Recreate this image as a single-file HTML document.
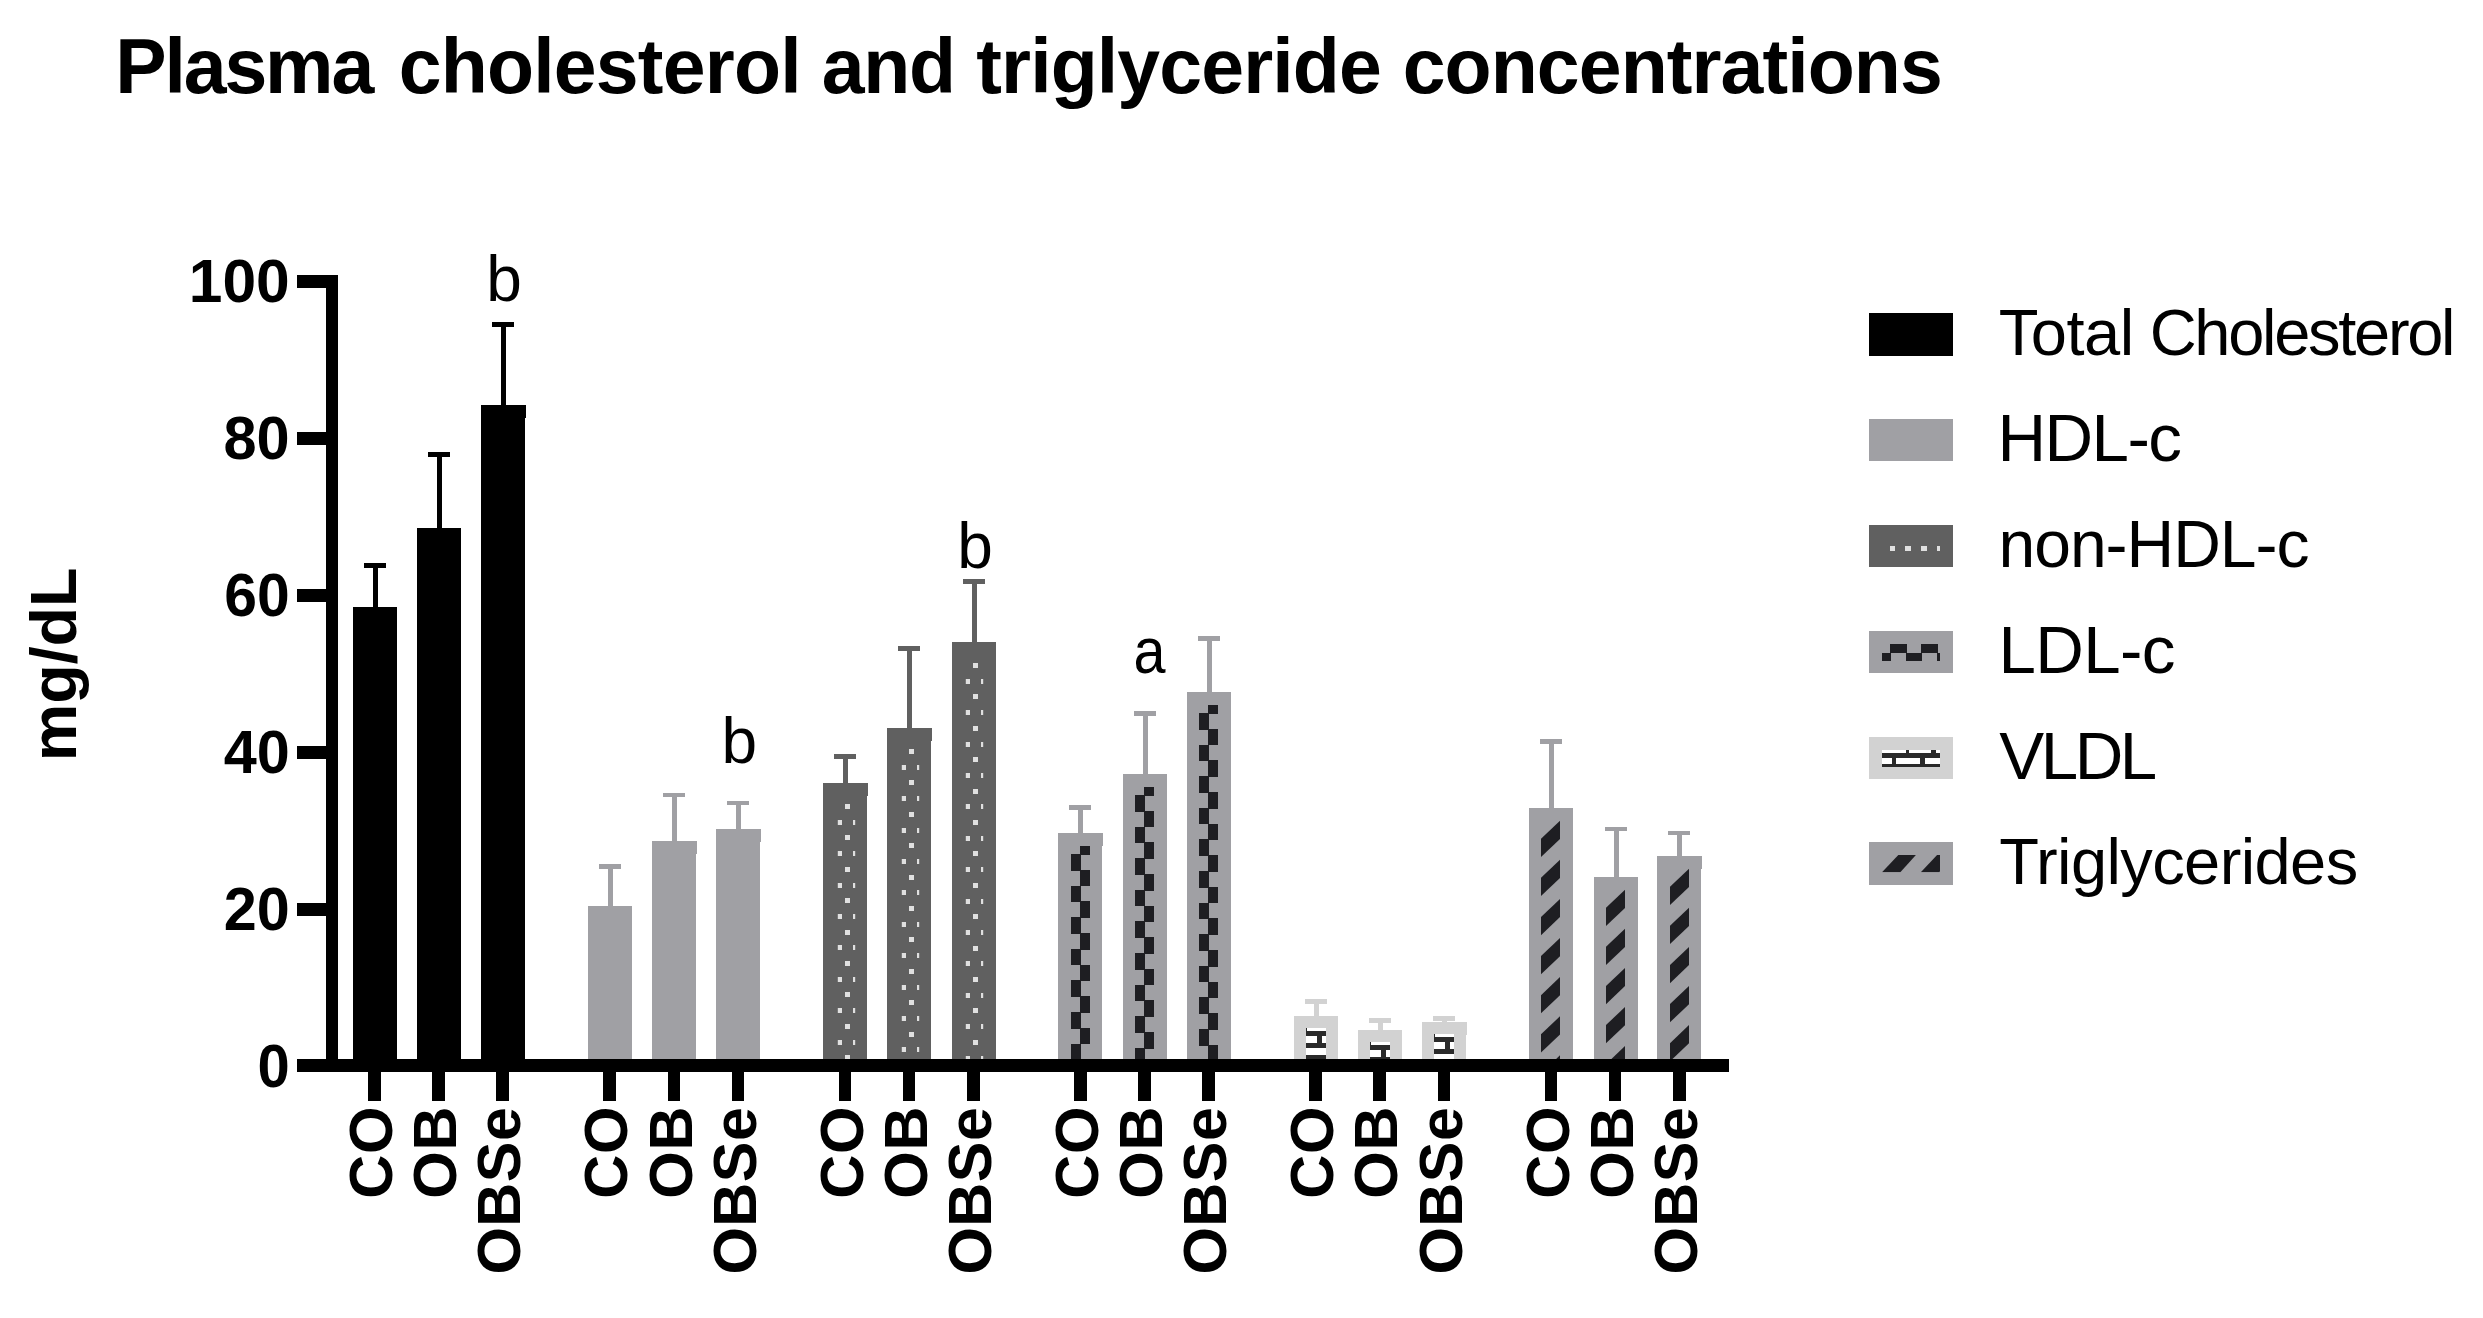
<!DOCTYPE html>
<html lang="en"><head><meta charset="utf-8"><title>Plasma cholesterol and triglyceride concentrations</title>
<style>html,body{margin:0;padding:0;background:#fff;}body{width:2483px;height:1318px;overflow:hidden;}svg{display:block;}text{font-family:"Liberation Sans",Arial,Helvetica,sans-serif;fill:#000;}.b{font-weight:bold;}</style></head><body>
<svg width="2483" height="1318" viewBox="0 0 2483 1318">
<rect width="2483" height="1318" fill="#fff"/>
<g shape-rendering="crispEdges">
<rect x="364" y="563" width="22" height="5" fill="#000"/>
<rect x="372.5" y="563" width="5" height="45" fill="#000"/>
<rect x="353" y="607" width="44" height="453" fill="#000"/>
<rect x="428" y="452" width="22" height="5" fill="#000"/>
<rect x="436.5" y="452" width="5" height="77" fill="#000"/>
<rect x="417" y="528" width="44" height="532" fill="#000"/>
<rect x="492" y="322" width="22" height="5" fill="#000"/>
<rect x="500.5" y="322" width="5" height="83.5" fill="#000"/>
<rect x="481" y="404.5" width="44" height="655.5" fill="#000"/>
<rect x="525" y="404.5" width="1" height="13" fill="#000"/>
<rect x="599" y="864" width="22" height="5" fill="#A0A0A4"/>
<rect x="607.5" y="864" width="5" height="43" fill="#A0A0A4"/>
<rect x="588" y="906" width="44" height="154" fill="#A0A0A4"/>
<rect x="663" y="793" width="22" height="4" fill="#A0A0A4"/>
<rect x="671.5" y="793" width="5" height="49" fill="#A0A0A4"/>
<rect x="652" y="841" width="44" height="219" fill="#A0A0A4"/>
<rect x="696" y="841" width="1" height="13" fill="#A0A0A4"/>
<rect x="727" y="801" width="22" height="4" fill="#A0A0A4"/>
<rect x="735.5" y="801" width="5" height="29" fill="#A0A0A4"/>
<rect x="716" y="829" width="44" height="231" fill="#A0A0A4"/>
<rect x="760" y="829" width="1" height="13" fill="#A0A0A4"/>
<rect x="834" y="754" width="22" height="4.5" fill="#606060"/>
<rect x="842.5" y="754" width="5" height="30" fill="#606060"/>
<rect x="823" y="783" width="44" height="277" fill="#606060"/>
<rect x="867" y="783" width="1" height="13" fill="#606060"/>
<clipPath id="c1"><rect x="837.8" y="796" width="17.4" height="263"/></clipPath>
<g clip-path="url(#c1)">
<rect x="844.9" y="804" width="5.1" height="5" fill="#E0E0E0"/>
<rect x="836.9" y="819.75" width="5.1" height="5" fill="#E0E0E0"/>
<rect x="852.9" y="819.75" width="5.1" height="5" fill="#E0E0E0"/>
<rect x="844.9" y="835.4" width="5.1" height="5" fill="#E0E0E0"/>
<rect x="836.9" y="851.15" width="5.1" height="5" fill="#E0E0E0"/>
<rect x="852.9" y="851.15" width="5.1" height="5" fill="#E0E0E0"/>
<rect x="844.9" y="866.8" width="5.1" height="5" fill="#E0E0E0"/>
<rect x="836.9" y="882.55" width="5.1" height="5" fill="#E0E0E0"/>
<rect x="852.9" y="882.55" width="5.1" height="5" fill="#E0E0E0"/>
<rect x="844.9" y="898.2" width="5.1" height="5" fill="#E0E0E0"/>
<rect x="836.9" y="913.95" width="5.1" height="5" fill="#E0E0E0"/>
<rect x="852.9" y="913.95" width="5.1" height="5" fill="#E0E0E0"/>
<rect x="844.9" y="929.6" width="5.1" height="5" fill="#E0E0E0"/>
<rect x="836.9" y="945.35" width="5.1" height="5" fill="#E0E0E0"/>
<rect x="852.9" y="945.35" width="5.1" height="5" fill="#E0E0E0"/>
<rect x="844.9" y="961" width="5.1" height="5" fill="#E0E0E0"/>
<rect x="836.9" y="976.75" width="5.1" height="5" fill="#E0E0E0"/>
<rect x="852.9" y="976.75" width="5.1" height="5" fill="#E0E0E0"/>
<rect x="844.9" y="992.4" width="5.1" height="5" fill="#E0E0E0"/>
<rect x="836.9" y="1008.15" width="5.1" height="5" fill="#E0E0E0"/>
<rect x="852.9" y="1008.15" width="5.1" height="5" fill="#E0E0E0"/>
<rect x="844.9" y="1023.8" width="5.1" height="5" fill="#E0E0E0"/>
<rect x="836.9" y="1039.55" width="5.1" height="5" fill="#E0E0E0"/>
<rect x="852.9" y="1039.55" width="5.1" height="5" fill="#E0E0E0"/>
<rect x="844.9" y="1055.2" width="5.1" height="5" fill="#E0E0E0"/>
<rect x="836.9" y="1070.95" width="5.1" height="5" fill="#E0E0E0"/>
<rect x="852.9" y="1070.95" width="5.1" height="5" fill="#E0E0E0"/>
</g>
<rect x="898" y="646" width="22" height="5" fill="#606060"/>
<rect x="906.5" y="646" width="5" height="83" fill="#606060"/>
<rect x="887" y="728" width="44" height="332" fill="#606060"/>
<rect x="931" y="728" width="1" height="13" fill="#606060"/>
<clipPath id="c2"><rect x="901.8" y="741" width="17.4" height="318"/></clipPath>
<g clip-path="url(#c2)">
<rect x="908.9" y="749" width="5.1" height="5" fill="#E0E0E0"/>
<rect x="900.9" y="764.75" width="5.1" height="5" fill="#E0E0E0"/>
<rect x="916.9" y="764.75" width="5.1" height="5" fill="#E0E0E0"/>
<rect x="908.9" y="780.4" width="5.1" height="5" fill="#E0E0E0"/>
<rect x="900.9" y="796.15" width="5.1" height="5" fill="#E0E0E0"/>
<rect x="916.9" y="796.15" width="5.1" height="5" fill="#E0E0E0"/>
<rect x="908.9" y="811.8" width="5.1" height="5" fill="#E0E0E0"/>
<rect x="900.9" y="827.55" width="5.1" height="5" fill="#E0E0E0"/>
<rect x="916.9" y="827.55" width="5.1" height="5" fill="#E0E0E0"/>
<rect x="908.9" y="843.2" width="5.1" height="5" fill="#E0E0E0"/>
<rect x="900.9" y="858.95" width="5.1" height="5" fill="#E0E0E0"/>
<rect x="916.9" y="858.95" width="5.1" height="5" fill="#E0E0E0"/>
<rect x="908.9" y="874.6" width="5.1" height="5" fill="#E0E0E0"/>
<rect x="900.9" y="890.35" width="5.1" height="5" fill="#E0E0E0"/>
<rect x="916.9" y="890.35" width="5.1" height="5" fill="#E0E0E0"/>
<rect x="908.9" y="906" width="5.1" height="5" fill="#E0E0E0"/>
<rect x="900.9" y="921.75" width="5.1" height="5" fill="#E0E0E0"/>
<rect x="916.9" y="921.75" width="5.1" height="5" fill="#E0E0E0"/>
<rect x="908.9" y="937.4" width="5.1" height="5" fill="#E0E0E0"/>
<rect x="900.9" y="953.15" width="5.1" height="5" fill="#E0E0E0"/>
<rect x="916.9" y="953.15" width="5.1" height="5" fill="#E0E0E0"/>
<rect x="908.9" y="968.8" width="5.1" height="5" fill="#E0E0E0"/>
<rect x="900.9" y="984.55" width="5.1" height="5" fill="#E0E0E0"/>
<rect x="916.9" y="984.55" width="5.1" height="5" fill="#E0E0E0"/>
<rect x="908.9" y="1000.2" width="5.1" height="5" fill="#E0E0E0"/>
<rect x="900.9" y="1015.95" width="5.1" height="5" fill="#E0E0E0"/>
<rect x="916.9" y="1015.95" width="5.1" height="5" fill="#E0E0E0"/>
<rect x="908.9" y="1031.6" width="5.1" height="5" fill="#E0E0E0"/>
<rect x="900.9" y="1047.35" width="5.1" height="5" fill="#E0E0E0"/>
<rect x="916.9" y="1047.35" width="5.1" height="5" fill="#E0E0E0"/>
<rect x="908.9" y="1063" width="5.1" height="5" fill="#E0E0E0"/>
<rect x="900.9" y="1078.75" width="5.1" height="5" fill="#E0E0E0"/>
<rect x="916.9" y="1078.75" width="5.1" height="5" fill="#E0E0E0"/>
</g>
<rect x="963" y="579" width="22" height="5" fill="#606060"/>
<rect x="971.5" y="579" width="5" height="64" fill="#606060"/>
<rect x="952" y="642" width="44" height="418" fill="#606060"/>
<clipPath id="c3"><rect x="965.8" y="655" width="17.4" height="404"/></clipPath>
<g clip-path="url(#c3)">
<rect x="972.9" y="663" width="5.1" height="5" fill="#E0E0E0"/>
<rect x="964.9" y="678.75" width="5.1" height="5" fill="#E0E0E0"/>
<rect x="980.9" y="678.75" width="5.1" height="5" fill="#E0E0E0"/>
<rect x="972.9" y="694.4" width="5.1" height="5" fill="#E0E0E0"/>
<rect x="964.9" y="710.15" width="5.1" height="5" fill="#E0E0E0"/>
<rect x="980.9" y="710.15" width="5.1" height="5" fill="#E0E0E0"/>
<rect x="972.9" y="725.8" width="5.1" height="5" fill="#E0E0E0"/>
<rect x="964.9" y="741.55" width="5.1" height="5" fill="#E0E0E0"/>
<rect x="980.9" y="741.55" width="5.1" height="5" fill="#E0E0E0"/>
<rect x="972.9" y="757.2" width="5.1" height="5" fill="#E0E0E0"/>
<rect x="964.9" y="772.95" width="5.1" height="5" fill="#E0E0E0"/>
<rect x="980.9" y="772.95" width="5.1" height="5" fill="#E0E0E0"/>
<rect x="972.9" y="788.6" width="5.1" height="5" fill="#E0E0E0"/>
<rect x="964.9" y="804.35" width="5.1" height="5" fill="#E0E0E0"/>
<rect x="980.9" y="804.35" width="5.1" height="5" fill="#E0E0E0"/>
<rect x="972.9" y="820" width="5.1" height="5" fill="#E0E0E0"/>
<rect x="964.9" y="835.75" width="5.1" height="5" fill="#E0E0E0"/>
<rect x="980.9" y="835.75" width="5.1" height="5" fill="#E0E0E0"/>
<rect x="972.9" y="851.4" width="5.1" height="5" fill="#E0E0E0"/>
<rect x="964.9" y="867.15" width="5.1" height="5" fill="#E0E0E0"/>
<rect x="980.9" y="867.15" width="5.1" height="5" fill="#E0E0E0"/>
<rect x="972.9" y="882.8" width="5.1" height="5" fill="#E0E0E0"/>
<rect x="964.9" y="898.55" width="5.1" height="5" fill="#E0E0E0"/>
<rect x="980.9" y="898.55" width="5.1" height="5" fill="#E0E0E0"/>
<rect x="972.9" y="914.2" width="5.1" height="5" fill="#E0E0E0"/>
<rect x="964.9" y="929.95" width="5.1" height="5" fill="#E0E0E0"/>
<rect x="980.9" y="929.95" width="5.1" height="5" fill="#E0E0E0"/>
<rect x="972.9" y="945.6" width="5.1" height="5" fill="#E0E0E0"/>
<rect x="964.9" y="961.35" width="5.1" height="5" fill="#E0E0E0"/>
<rect x="980.9" y="961.35" width="5.1" height="5" fill="#E0E0E0"/>
<rect x="972.9" y="977" width="5.1" height="5" fill="#E0E0E0"/>
<rect x="964.9" y="992.75" width="5.1" height="5" fill="#E0E0E0"/>
<rect x="980.9" y="992.75" width="5.1" height="5" fill="#E0E0E0"/>
<rect x="972.9" y="1008.4" width="5.1" height="5" fill="#E0E0E0"/>
<rect x="964.9" y="1024.15" width="5.1" height="5" fill="#E0E0E0"/>
<rect x="980.9" y="1024.15" width="5.1" height="5" fill="#E0E0E0"/>
<rect x="972.9" y="1039.8" width="5.1" height="5" fill="#E0E0E0"/>
<rect x="964.9" y="1055.55" width="5.1" height="5" fill="#E0E0E0"/>
<rect x="980.9" y="1055.55" width="5.1" height="5" fill="#E0E0E0"/>
<rect x="972.9" y="1071.2" width="5.1" height="5" fill="#E0E0E0"/>
<rect x="964.9" y="1086.95" width="5.1" height="5" fill="#E0E0E0"/>
<rect x="980.9" y="1086.95" width="5.1" height="5" fill="#E0E0E0"/>
</g>
<rect x="1069" y="805" width="22" height="5" fill="#A0A0A4"/>
<rect x="1077.5" y="805" width="5" height="29" fill="#A0A0A4"/>
<rect x="1058" y="833" width="44" height="227" fill="#A0A0A4"/>
<rect x="1102" y="833" width="1" height="13" fill="#A0A0A4"/>
<clipPath id="c4"><rect x="1070" y="846" width="20.2" height="213"/></clipPath>
<g clip-path="url(#c4)">
<rect x="1080.2" y="838.1" width="10" height="16.7" fill="#1E1E22"/>
<rect x="1071" y="853.9" width="9.9" height="16.7" fill="#1E1E22"/>
<rect x="1080.2" y="869.7" width="10" height="16.7" fill="#1E1E22"/>
<rect x="1071" y="885.5" width="9.9" height="16.7" fill="#1E1E22"/>
<rect x="1080.2" y="901.3" width="10" height="16.7" fill="#1E1E22"/>
<rect x="1071" y="917.1" width="9.9" height="16.7" fill="#1E1E22"/>
<rect x="1080.2" y="932.9" width="10" height="16.7" fill="#1E1E22"/>
<rect x="1071" y="948.7" width="9.9" height="16.7" fill="#1E1E22"/>
<rect x="1080.2" y="964.5" width="10" height="16.7" fill="#1E1E22"/>
<rect x="1071" y="980.3" width="9.9" height="16.7" fill="#1E1E22"/>
<rect x="1080.2" y="996.1" width="10" height="16.7" fill="#1E1E22"/>
<rect x="1071" y="1011.9" width="9.9" height="16.7" fill="#1E1E22"/>
<rect x="1080.2" y="1027.7" width="10" height="16.7" fill="#1E1E22"/>
<rect x="1071" y="1043.5" width="9.9" height="16.7" fill="#1E1E22"/>
<rect x="1080.2" y="1059.3" width="10" height="16.7" fill="#1E1E22"/>
<rect x="1071" y="1075.1" width="9.9" height="16.7" fill="#1E1E22"/>
</g>
<rect x="1134" y="711" width="22" height="5" fill="#A0A0A4"/>
<rect x="1142.5" y="711" width="5" height="64" fill="#A0A0A4"/>
<rect x="1123" y="774" width="44" height="286" fill="#A0A0A4"/>
<clipPath id="c5"><rect x="1135" y="787" width="20.2" height="272"/></clipPath>
<g clip-path="url(#c5)">
<rect x="1144.2" y="779.1" width="10" height="16.7" fill="#1E1E22"/>
<rect x="1135" y="794.9" width="9.9" height="16.7" fill="#1E1E22"/>
<rect x="1144.2" y="810.7" width="10" height="16.7" fill="#1E1E22"/>
<rect x="1135" y="826.5" width="9.9" height="16.7" fill="#1E1E22"/>
<rect x="1144.2" y="842.3" width="10" height="16.7" fill="#1E1E22"/>
<rect x="1135" y="858.1" width="9.9" height="16.7" fill="#1E1E22"/>
<rect x="1144.2" y="873.9" width="10" height="16.7" fill="#1E1E22"/>
<rect x="1135" y="889.7" width="9.9" height="16.7" fill="#1E1E22"/>
<rect x="1144.2" y="905.5" width="10" height="16.7" fill="#1E1E22"/>
<rect x="1135" y="921.3" width="9.9" height="16.7" fill="#1E1E22"/>
<rect x="1144.2" y="937.1" width="10" height="16.7" fill="#1E1E22"/>
<rect x="1135" y="952.9" width="9.9" height="16.7" fill="#1E1E22"/>
<rect x="1144.2" y="968.7" width="10" height="16.7" fill="#1E1E22"/>
<rect x="1135" y="984.5" width="9.9" height="16.7" fill="#1E1E22"/>
<rect x="1144.2" y="1000.3" width="10" height="16.7" fill="#1E1E22"/>
<rect x="1135" y="1016.1" width="9.9" height="16.7" fill="#1E1E22"/>
<rect x="1144.2" y="1031.9" width="10" height="16.7" fill="#1E1E22"/>
<rect x="1135" y="1047.7" width="9.9" height="16.7" fill="#1E1E22"/>
<rect x="1144.2" y="1063.5" width="10" height="16.7" fill="#1E1E22"/>
<rect x="1135" y="1079.3" width="9.9" height="16.7" fill="#1E1E22"/>
</g>
<rect x="1198" y="636" width="22" height="4.5" fill="#A0A0A4"/>
<rect x="1206.5" y="636" width="5" height="57" fill="#A0A0A4"/>
<rect x="1187" y="692" width="44" height="368" fill="#A0A0A4"/>
<clipPath id="c6"><rect x="1199" y="705" width="20.2" height="354"/></clipPath>
<g clip-path="url(#c6)">
<rect x="1208.2" y="697.1" width="10" height="16.7" fill="#1E1E22"/>
<rect x="1199" y="712.9" width="9.9" height="16.7" fill="#1E1E22"/>
<rect x="1208.2" y="728.7" width="10" height="16.7" fill="#1E1E22"/>
<rect x="1199" y="744.5" width="9.9" height="16.7" fill="#1E1E22"/>
<rect x="1208.2" y="760.3" width="10" height="16.7" fill="#1E1E22"/>
<rect x="1199" y="776.1" width="9.9" height="16.7" fill="#1E1E22"/>
<rect x="1208.2" y="791.9" width="10" height="16.7" fill="#1E1E22"/>
<rect x="1199" y="807.7" width="9.9" height="16.7" fill="#1E1E22"/>
<rect x="1208.2" y="823.5" width="10" height="16.7" fill="#1E1E22"/>
<rect x="1199" y="839.3" width="9.9" height="16.7" fill="#1E1E22"/>
<rect x="1208.2" y="855.1" width="10" height="16.7" fill="#1E1E22"/>
<rect x="1199" y="870.9" width="9.9" height="16.7" fill="#1E1E22"/>
<rect x="1208.2" y="886.7" width="10" height="16.7" fill="#1E1E22"/>
<rect x="1199" y="902.5" width="9.9" height="16.7" fill="#1E1E22"/>
<rect x="1208.2" y="918.3" width="10" height="16.7" fill="#1E1E22"/>
<rect x="1199" y="934.1" width="9.9" height="16.7" fill="#1E1E22"/>
<rect x="1208.2" y="949.9" width="10" height="16.7" fill="#1E1E22"/>
<rect x="1199" y="965.7" width="9.9" height="16.7" fill="#1E1E22"/>
<rect x="1208.2" y="981.5" width="10" height="16.7" fill="#1E1E22"/>
<rect x="1199" y="997.3" width="9.9" height="16.7" fill="#1E1E22"/>
<rect x="1208.2" y="1013.1" width="10" height="16.7" fill="#1E1E22"/>
<rect x="1199" y="1028.9" width="9.9" height="16.7" fill="#1E1E22"/>
<rect x="1208.2" y="1044.7" width="10" height="16.7" fill="#1E1E22"/>
<rect x="1199" y="1060.5" width="9.9" height="16.7" fill="#1E1E22"/>
</g>
<rect x="1305" y="999" width="22" height="5" fill="#D2D2D2"/>
<rect x="1313.5" y="999" width="5" height="18" fill="#D2D2D2"/>
<rect x="1294" y="1016" width="44" height="44" fill="#D2D2D2"/>
<clipPath id="c7"><rect x="1306" y="1028" width="20.2" height="31"/></clipPath>
<g clip-path="url(#c7)">
<rect x="1306" y="1028" width="20.2" height="31" fill="#fff"/>
<rect x="1306" y="1031.1" width="20.2" height="4.5" fill="#2A2A2A"/>
<rect x="1317.4" y="1035.6" width="4.6" height="7.5" fill="#2A2A2A"/>
<rect x="1306" y="1043.1" width="20.2" height="4.5" fill="#2A2A2A"/>
<rect x="1306" y="1055.1" width="20.2" height="4.5" fill="#2A2A2A"/>
<rect x="1317.4" y="1059.6" width="4.6" height="7.5" fill="#2A2A2A"/>
<rect x="1306" y="1028" width="0.9" height="3.1" fill="#2A2A2A"/>
</g>
<rect x="1369" y="1018" width="22" height="5" fill="#D2D2D2"/>
<rect x="1377.5" y="1018" width="5" height="13" fill="#D2D2D2"/>
<rect x="1358" y="1030" width="44" height="30" fill="#D2D2D2"/>
<clipPath id="c8"><rect x="1370" y="1042" width="20.2" height="17"/></clipPath>
<g clip-path="url(#c8)">
<rect x="1370" y="1042" width="20.2" height="17" fill="#fff"/>
<rect x="1370" y="1045.1" width="20.2" height="4.5" fill="#2A2A2A"/>
<rect x="1381.4" y="1049.6" width="4.6" height="7.5" fill="#2A2A2A"/>
<rect x="1370" y="1057.1" width="20.2" height="4.5" fill="#2A2A2A"/>
<rect x="1370" y="1042" width="0.9" height="3.1" fill="#2A2A2A"/>
</g>
<rect x="1433" y="1016" width="22" height="5" fill="#D2D2D2"/>
<rect x="1441.5" y="1016" width="5" height="7" fill="#D2D2D2"/>
<rect x="1422" y="1022" width="44" height="38" fill="#D2D2D2"/>
<rect x="1466" y="1022" width="1" height="13" fill="#D2D2D2"/>
<clipPath id="c9"><rect x="1434" y="1034" width="20.2" height="25"/></clipPath>
<g clip-path="url(#c9)">
<rect x="1434" y="1034" width="20.2" height="25" fill="#fff"/>
<rect x="1434" y="1037.1" width="20.2" height="4.5" fill="#2A2A2A"/>
<rect x="1445.4" y="1041.6" width="4.6" height="7.5" fill="#2A2A2A"/>
<rect x="1434" y="1049.1" width="20.2" height="4.5" fill="#2A2A2A"/>
<rect x="1434" y="1061.1" width="20.2" height="4.5" fill="#2A2A2A"/>
<rect x="1445.4" y="1065.6" width="4.6" height="7.5" fill="#2A2A2A"/>
<rect x="1434" y="1034" width="0.9" height="3.1" fill="#2A2A2A"/>
</g>
<rect x="1540" y="739" width="22" height="5" fill="#A0A0A4"/>
<rect x="1548.5" y="739" width="5" height="70" fill="#A0A0A4"/>
<rect x="1529" y="808" width="44" height="252" fill="#A0A0A4"/>
<clipPath id="c10"><rect x="1541" y="820.7" width="19" height="238.3"/></clipPath>
<g clip-path="url(#c10)">
<polygon shape-rendering="geometricPrecision" points="1565,815.95 1565,834.15 1536,861.7 1536,843.5" fill="#1E1E22"/>
<polygon shape-rendering="geometricPrecision" points="1565,855.05 1565,873.25 1536,900.8 1536,882.6" fill="#1E1E22"/>
<polygon shape-rendering="geometricPrecision" points="1565,894.15 1565,912.35 1536,939.9 1536,921.7" fill="#1E1E22"/>
<polygon shape-rendering="geometricPrecision" points="1565,933.25 1565,951.45 1536,979 1536,960.8" fill="#1E1E22"/>
<polygon shape-rendering="geometricPrecision" points="1565,972.35 1565,990.55 1536,1018.1 1536,999.9" fill="#1E1E22"/>
<polygon shape-rendering="geometricPrecision" points="1565,1011.45 1565,1029.65 1536,1057.2 1536,1039" fill="#1E1E22"/>
<polygon shape-rendering="geometricPrecision" points="1565,1050.55 1565,1068.75 1536,1096.3 1536,1078.1" fill="#1E1E22"/>
</g>
<rect x="1605" y="827" width="22" height="4" fill="#A0A0A4"/>
<rect x="1613.5" y="827" width="5" height="51" fill="#A0A0A4"/>
<rect x="1594" y="877" width="44" height="183" fill="#A0A0A4"/>
<clipPath id="c11"><rect x="1606" y="889.7" width="19" height="169.3"/></clipPath>
<g clip-path="url(#c11)">
<polygon shape-rendering="geometricPrecision" points="1630,884.95 1630,903.15 1601,930.7 1601,912.5" fill="#1E1E22"/>
<polygon shape-rendering="geometricPrecision" points="1630,924.05 1630,942.25 1601,969.8 1601,951.6" fill="#1E1E22"/>
<polygon shape-rendering="geometricPrecision" points="1630,963.15 1630,981.35 1601,1008.9 1601,990.7" fill="#1E1E22"/>
<polygon shape-rendering="geometricPrecision" points="1630,1002.25 1630,1020.45 1601,1048 1601,1029.8" fill="#1E1E22"/>
<polygon shape-rendering="geometricPrecision" points="1630,1041.35 1630,1059.55 1601,1087.1 1601,1068.9" fill="#1E1E22"/>
</g>
<rect x="1668" y="831" width="22" height="4" fill="#A0A0A4"/>
<rect x="1676.5" y="831" width="5" height="26" fill="#A0A0A4"/>
<rect x="1657" y="856" width="44" height="204" fill="#A0A0A4"/>
<rect x="1701" y="856" width="1" height="13" fill="#A0A0A4"/>
<clipPath id="c12"><rect x="1670" y="868.7" width="19" height="190.3"/></clipPath>
<g clip-path="url(#c12)">
<polygon shape-rendering="geometricPrecision" points="1694,863.95 1694,882.15 1665,909.7 1665,891.5" fill="#1E1E22"/>
<polygon shape-rendering="geometricPrecision" points="1694,903.05 1694,921.25 1665,948.8 1665,930.6" fill="#1E1E22"/>
<polygon shape-rendering="geometricPrecision" points="1694,942.15 1694,960.35 1665,987.9 1665,969.7" fill="#1E1E22"/>
<polygon shape-rendering="geometricPrecision" points="1694,981.25 1694,999.45 1665,1027 1665,1008.8" fill="#1E1E22"/>
<polygon shape-rendering="geometricPrecision" points="1694,1020.35 1694,1038.55 1665,1066.1 1665,1047.9" fill="#1E1E22"/>
</g>
<rect x="326" y="275" width="12" height="797" fill="#000"/>
<rect x="297" y="1059" width="1432" height="13" fill="#000"/>
<rect x="297" y="275" width="30" height="12.5" fill="#000"/>
<rect x="297" y="432" width="30" height="12.5" fill="#000"/>
<rect x="297" y="589" width="30" height="12.5" fill="#000"/>
<rect x="297" y="746" width="30" height="12.5" fill="#000"/>
<rect x="297" y="903" width="30" height="12.5" fill="#000"/>
<rect x="368" y="1071" width="12.6" height="30" fill="#000"/>
<rect x="432.2" y="1071" width="12.6" height="30" fill="#000"/>
<rect x="496.4" y="1071" width="12.6" height="30" fill="#000"/>
<rect x="603.3" y="1071" width="12.6" height="30" fill="#000"/>
<rect x="667.5" y="1071" width="12.6" height="30" fill="#000"/>
<rect x="731.7" y="1071" width="12.6" height="30" fill="#000"/>
<rect x="838.6" y="1071" width="12.6" height="30" fill="#000"/>
<rect x="902.8" y="1071" width="12.6" height="30" fill="#000"/>
<rect x="967" y="1071" width="12.6" height="30" fill="#000"/>
<rect x="1073.9" y="1071" width="12.6" height="30" fill="#000"/>
<rect x="1138.1" y="1071" width="12.6" height="30" fill="#000"/>
<rect x="1202.3" y="1071" width="12.6" height="30" fill="#000"/>
<rect x="1309.2" y="1071" width="12.6" height="30" fill="#000"/>
<rect x="1373.4" y="1071" width="12.6" height="30" fill="#000"/>
<rect x="1437.6" y="1071" width="12.6" height="30" fill="#000"/>
<rect x="1544.5" y="1071" width="12.6" height="30" fill="#000"/>
<rect x="1608.7" y="1071" width="12.6" height="30" fill="#000"/>
<rect x="1672.9" y="1071" width="12.6" height="30" fill="#000"/>
</g>
<g shape-rendering="crispEdges">
<rect x="1869" y="313" width="84" height="42.5" fill="#000"/>
<rect x="1869" y="419" width="84" height="42" fill="#A0A0A4"/>
<rect x="1869" y="525" width="84" height="42" fill="#606060"/>
<clipPath id="l2"><rect x="1882" y="537.8" width="58" height="17.2"/></clipPath>
<g clip-path="url(#l2)">
<rect x="1889.6" y="546.3" width="5.4" height="4.8" fill="#E0E0E0"/>
<rect x="1905.4" y="546.3" width="5.4" height="4.8" fill="#E0E0E0"/>
<rect x="1921.2" y="546.3" width="5.4" height="4.8" fill="#E0E0E0"/>
<rect x="1937" y="546.3" width="5.4" height="4.8" fill="#E0E0E0"/>
<rect x="1952.8" y="546.3" width="5.4" height="4.8" fill="#E0E0E0"/>
</g>
<rect x="1869" y="631" width="84" height="42" fill="#A0A0A4"/>
<clipPath id="l3"><rect x="1882" y="643.8" width="58" height="17.2"/></clipPath>
<g clip-path="url(#l3)">
<rect x="1874.3" y="652.8" width="16.4" height="10" fill="#1E1E22"/>
<rect x="1905.8" y="652.8" width="16.4" height="10" fill="#1E1E22"/>
<rect x="1937.3" y="652.8" width="16.4" height="10" fill="#1E1E22"/>
<rect x="1889.8" y="643.8" width="17.4" height="9.6" fill="#1E1E22"/>
<rect x="1920.8" y="643.8" width="17.4" height="9.6" fill="#1E1E22"/>
</g>
<rect x="1869" y="737" width="84" height="42" fill="#D2D2D2"/>
<clipPath id="l4"><rect x="1882" y="749.8" width="58" height="17.2"/></clipPath>
<g clip-path="url(#l4)">
<rect x="1882" y="749.8" width="58" height="17.2" fill="#fff"/>
<rect x="1882" y="752.8" width="58" height="5.2" fill="#2A2A2A"/>
<rect x="1882" y="764" width="58" height="5" fill="#2A2A2A"/>
<rect x="1891.8" y="757.8" width="4.6" height="6.5" fill="#2A2A2A"/>
<rect x="1920.1" y="757.8" width="4.6" height="6.5" fill="#2A2A2A"/>
<rect x="1905.6" y="749.8" width="3.5" height="3" fill="#2A2A2A"/>
<rect x="1931.4" y="749.8" width="5" height="3" fill="#2A2A2A"/>
</g>
<rect x="1869" y="842.2" width="84" height="42.5" fill="#A0A0A4"/>
<clipPath id="l5"><rect x="1882" y="855" width="58" height="17.2"/></clipPath>
<g clip-path="url(#l5)">
<polygon shape-rendering="geometricPrecision" points="1882,872.2 1898.3,855 1915.9,855 1900.3,872.2" fill="#1E1E22"/>
<polygon shape-rendering="geometricPrecision" points="1920.8,872.2 1937.1,855 1954.7,855 1939.1,872.2" fill="#1E1E22"/>
</g>
</g>
<text y="93.1" font-size="77" class="b"><tspan x="115.35" textLength="258.86" lengthAdjust="spacing">Plasma</tspan> <tspan x="398.69" textLength="402.86" lengthAdjust="spacing">cholesterol</tspan> <tspan x="821.84" textLength="134.13" lengthAdjust="spacing">and</tspan> <tspan x="976.26" textLength="405.57" lengthAdjust="spacing">triglyceride</tspan> <tspan x="1402.69" textLength="540.07" lengthAdjust="spacing">concentrations</tspan></text>
<text id="mgdl" x="76" y="761.2" font-size="64.6" class="b" textLength="193.75" lengthAdjust="spacing" transform="rotate(-90 76 761.2)">mg/dL</text>
<text x="188.758" y="302.4" font-size="60.5" class="b" textLength="100.94" lengthAdjust="spacingAndGlyphs">100</text>
<text x="223.55" y="459.4" font-size="60.5" class="b" textLength="66.15" lengthAdjust="spacingAndGlyphs">80</text>
<text x="224.223" y="616.4" font-size="60.5" class="b" textLength="65.48" lengthAdjust="spacingAndGlyphs">60</text>
<text x="223.684" y="773.4" font-size="60.5" class="b" textLength="66.02" lengthAdjust="spacingAndGlyphs">40</text>
<text x="223.751" y="930.4" font-size="60.5" class="b" textLength="65.95" lengthAdjust="spacingAndGlyphs">20</text>
<text x="257.466" y="1087.4" font-size="60.5" class="b" textLength="32.23" lengthAdjust="spacingAndGlyphs">0</text>
<text id="labCO" x="392.1" y="1198.8" font-size="61" class="b" textLength="92.3" lengthAdjust="spacing" transform="rotate(-90 392.1 1198.8)">CO</text>
<text id="labOB" x="456.3" y="1198.8" font-size="61" class="b" textLength="92.3" lengthAdjust="spacing" transform="rotate(-90 456.3 1198.8)">OB</text>
<text id="labOBSe" x="520.5" y="1274.6" font-size="61" class="b" textLength="167.46" lengthAdjust="spacing" transform="rotate(-90 520.5 1274.6)">OBSe</text>
<text x="627.4" y="1198.8" font-size="61" class="b" textLength="92.3" lengthAdjust="spacing" transform="rotate(-90 627.4 1198.8)">CO</text>
<text x="691.6" y="1198.8" font-size="61" class="b" textLength="92.3" lengthAdjust="spacing" transform="rotate(-90 691.6 1198.8)">OB</text>
<text x="755.8" y="1274.6" font-size="61" class="b" textLength="167.46" lengthAdjust="spacing" transform="rotate(-90 755.8 1274.6)">OBSe</text>
<text x="862.7" y="1198.8" font-size="61" class="b" textLength="92.3" lengthAdjust="spacing" transform="rotate(-90 862.7 1198.8)">CO</text>
<text x="926.9" y="1198.8" font-size="61" class="b" textLength="92.3" lengthAdjust="spacing" transform="rotate(-90 926.9 1198.8)">OB</text>
<text x="991.1" y="1274.6" font-size="61" class="b" textLength="167.46" lengthAdjust="spacing" transform="rotate(-90 991.1 1274.6)">OBSe</text>
<text x="1098" y="1198.8" font-size="61" class="b" textLength="92.3" lengthAdjust="spacing" transform="rotate(-90 1098 1198.8)">CO</text>
<text x="1162.2" y="1198.8" font-size="61" class="b" textLength="92.3" lengthAdjust="spacing" transform="rotate(-90 1162.2 1198.8)">OB</text>
<text x="1226.4" y="1274.6" font-size="61" class="b" textLength="167.46" lengthAdjust="spacing" transform="rotate(-90 1226.4 1274.6)">OBSe</text>
<text x="1333.3" y="1198.8" font-size="61" class="b" textLength="92.3" lengthAdjust="spacing" transform="rotate(-90 1333.3 1198.8)">CO</text>
<text x="1397.5" y="1198.8" font-size="61" class="b" textLength="92.3" lengthAdjust="spacing" transform="rotate(-90 1397.5 1198.8)">OB</text>
<text x="1461.7" y="1274.6" font-size="61" class="b" textLength="167.46" lengthAdjust="spacing" transform="rotate(-90 1461.7 1274.6)">OBSe</text>
<text x="1568.6" y="1198.8" font-size="61" class="b" textLength="92.3" lengthAdjust="spacing" transform="rotate(-90 1568.6 1198.8)">CO</text>
<text x="1632.8" y="1198.8" font-size="61" class="b" textLength="92.3" lengthAdjust="spacing" transform="rotate(-90 1632.8 1198.8)">OB</text>
<text x="1697" y="1274.6" font-size="61" class="b" textLength="167.46" lengthAdjust="spacing" transform="rotate(-90 1697 1274.6)">OBSe</text>
<text y="354.8" font-size="65"><tspan x="1998.74" textLength="135.51" lengthAdjust="spacing">Total</tspan> <tspan x="2149.70" textLength="305.85" lengthAdjust="spacing">Cholesterol</tspan></text>
<text id="leg1" x="1997.5" y="460.8" font-size="67.3" textLength="184.44" lengthAdjust="spacing">HDL-c</text>
<text id="leg2" x="1998.5" y="566.8" font-size="66" textLength="311.01" lengthAdjust="spacing">non-HDL-c</text>
<text id="leg3" x="1998.5" y="672.8" font-size="67.3" textLength="177.02" lengthAdjust="spacing">LDL-c</text>
<text id="leg4" x="1999.3" y="778.8" font-size="67.3" textLength="157.94" lengthAdjust="spacing">VLDL</text>
<text id="leg5" x="1999.3" y="884" font-size="65" textLength="358.87" lengthAdjust="spacing">Triglycerides</text>
<text x="504" y="301" font-size="64" text-anchor="middle">b</text>
<text x="739.3" y="762.8" font-size="64" text-anchor="middle">b</text>
<text x="975" y="567.5" font-size="64" text-anchor="middle">b</text>
<text x="1133.6" y="673.2" font-size="65" textLength="32" lengthAdjust="spacingAndGlyphs">a</text>
</svg></body></html>
